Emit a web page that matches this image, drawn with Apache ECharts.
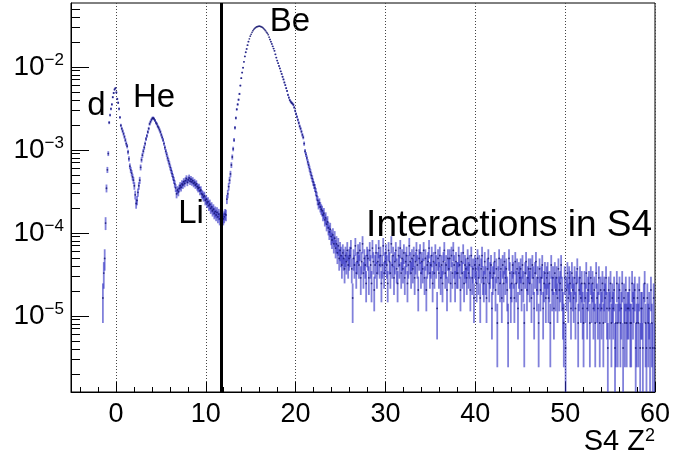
<!DOCTYPE html>
<html>
<head>
<meta charset="utf-8">
<script src="https://cdn.jsdelivr.net/npm/echarts@6/dist/echarts.min.js"></script>
<style>
  html, body { margin: 0; padding: 0; background: #fff; }
  #chart { width: 673px; height: 462px; }
</style>
</head>
<body>
<div id="chart"></div>
<script>
// Histogram of S4 Z^2: fixed-width bins, raw entry counts per bin.
const BIN_START = -1.5;
const BIN_WIDTH = 0.1;
const ENTRY_WEIGHT = 4.1e-6;   // normalisation of one entry

// d peak rising edge (-1.5 .. -0.1)
const COUNTS_D_RISE = [4, 8, 12, 32, 84, 140, 220, 520, 640, 760, 860, 1050, 1180, 1300];
// d fall, He peak (-0.1 .. 6.5)
const COUNTS_HE = [
  1350, 1200, 1000, 900, 760, 600, 480, 440, 410, 380,
  350, 320, 290, 270, 230, 190, 155, 140, 128, 115,
  105, 90, 70, 55, 60, 75, 90, 105, 150, 185,
  210, 235, 260, 290, 330, 360, 400, 440, 500, 530,
  560, 585, 590, 575, 550, 520, 500, 470, 450, 425,
  400, 370, 345, 320, 290, 260, 235, 215, 195, 180,
  165, 150, 138, 126, 115, 105
];
// Li bump (6.5 .. 12.3)
const COUNTS_LI = [
  95, 85, 72, 80, 76, 84, 90, 86, 95, 92,
  101, 96, 104, 110, 99, 106, 112, 102, 108, 100,
  104, 96, 99, 92, 95, 88, 84, 86, 78, 80,
  72, 70, 66, 68, 60, 62, 56, 58, 52, 54,
  48, 50, 45, 47, 42, 44, 40, 43, 38, 41,
  36, 39, 37, 40, 36, 38, 41, 40
];
// Be peak (12.3 .. 26.0)
const COUNTS_BE = [
  62, 72, 88, 105, 125, 160, 200, 250, 320, 450,
  590, 750, 860, 980, 1150, 1450, 1780, 2080, 2380, 2800,
  3250, 3650, 4000, 4450, 4900, 5300, 5700, 6000, 6350, 6650,
  6900, 7100, 7250, 7380, 7450, 7500, 7520, 7500, 7420, 7350,
  7230, 7050, 6850, 6650, 6400, 6200, 5950, 5550, 5200, 4900,
  4600, 4300, 4050, 3800, 3450, 3150, 2900, 2700, 2500, 2330,
  2150, 2000, 1850, 1720, 1580, 1470, 1350, 1250, 1120, 1040,
  970, 930, 900, 880, 850, 790, 720, 660, 610, 560,
  515, 470, 440, 405, 370, 345, 290, 235, 215, 195,
  175, 160, 145, 132, 120, 110, 100, 92, 85, 76,
  68, 60, 54, 56, 50, 47, 45, 40, 42, 35,
  37, 31, 33, 28, 25, 27, 22, 20, 23, 18,
  21, 16, 18, 14, 17, 12, 15, 13, 10, 14,
  12, 9, 13, 11, 15, 10, 12
];
// interaction tail (26.0 .. 60.0)
const COUNTS_TAIL = [
  13, 16, 9, 4, 12, 10, 17, 8, 11, 14,
  10, 15, 7, 11, 18, 8, 12, 10, 6, 13,
  12, 7, 15, 10, 6, 16, 11, 5, 10, 14,
  8, 11, 16, 10, 13, 6, 10, 17, 8, 11,
  14, 10, 6, 15, 11, 8, 18, 10, 13, 7,
  11, 15, 9, 6, 13, 10, 16, 8, 12, 9,
  14, 7, 11, 13, 6, 10, 17, 11, 8, 12,
  9, 13, 7, 11, 15, 10, 5, 12, 14, 8,
  11, 9, 15, 7, 12, 5, 10, 11, 16, 8,
  10, 13, 6, 11, 8, 14, 10, 3, 12, 8,
  13, 7, 10, 6, 11, 15, 8, 10, 5, 12,
  9, 12, 6, 13, 8, 15, 10, 6, 11, 8,
  8, 13, 10, 5, 11, 8, 14, 6, 10, 9,
  7, 12, 8, 10, 5, 13, 7, 9, 4, 10,
  9, 6, 12, 7, 10, 4, 9, 13, 7, 6,
  11, 7, 4, 9, 12, 6, 8, 10, 3, 7,
  8, 11, 5, 9, 2, 7, 12, 6, 9, 4,
  10, 6, 11, 7, 9, 5, 2, 12, 8, 4,
  6, 10, 8, 4, 11, 6, 9, 3, 8, 7,
  9, 5, 10, 6, 2, 8, 11, 5, 7, 9,
  6, 9, 4, 10, 7, 3, 8, 11, 5, 7,
  2, 9, 5, 7, 10, 3, 6, 8, 4, 7,
  8, 4, 6, 2, 10, 5, 7, 3, 8, 5,
  7, 4, 9, 5, 6, 10, 5, 3, 2, 7,
  1, 5, 8, 4, 7, 6, 3, 8, 5, 4,
  7, 3, 6, 9, 2, 5, 7, 4, 6, 3,
  2, 6, 4, 8, 3, 5, 6, 2, 7, 4,
  6, 3, 5, 2, 8, 4, 3, 7, 2, 5,
  3, 6, 2, 5, 4, 7, 3, 1, 5, 3,
  6, 2, 4, 3, 5, 1, 2, 6, 2, 4,
  5, 2, 3, 6, 1, 4, 2, 5, 2, 3,
  3, 5, 2, 2, 6, 3, 4, 5, 1, 2,
  4, 2, 5, 1, 3, 3, 1, 4, 6, 2,
  1, 4, 2, 3, 1, 5, 2, 1, 4, 1
];

const X_RANGE = [-5, 60];
const Y_RANGE = [1.21e-6, 0.0587];
const X_MAJOR = [0, 10, 20, 30, 40, 50, 60];
const X_MINOR = [-4, -2, 2, 4, 6, 8, 12, 14, 16, 18, 22, 24, 26, 28, 32, 34, 36, 38,
                 42, 44, 46, 48, 52, 54, 56, 58];
const Y_MAJOR = [1e-5, 1e-4, 1e-3, 1e-2];
const Y_MINOR = [
  2e-6, 3e-6, 4e-6, 5e-6, 6e-6, 7e-6, 8e-6, 9e-6,
  2e-5, 3e-5, 4e-5, 5e-5, 6e-5, 7e-5, 8e-5, 9e-5,
  2e-4, 3e-4, 4e-4, 5e-4, 6e-4, 7e-4, 8e-4, 9e-4,
  2e-3, 3e-3, 4e-3, 5e-3, 6e-3, 7e-3, 8e-3, 9e-3,
  2e-2, 3e-2, 4e-2, 5e-2
];
const CUT_POSITION = 11.75;

const COUNTS = [].concat(COUNTS_D_RISE, COUNTS_HE, COUNTS_LI, COUNTS_BE, COUNTS_TAIL);

// [bin centre, content, error] for every filled bin
const points = [];
COUNTS.forEach(function (n, i) {
  if (n > 0) {
    points.push([BIN_START + BIN_WIDTH * (i + 0.5), n * ENTRY_WEIGHT, Math.sqrt(n) * ENTRY_WEIGHT]);
  }
});

const FONT = '"Liberation Sans", Arial, Helvetica, sans-serif';

const chart = echarts.init(document.getElementById('chart'), null, { renderer: 'canvas' });

chart.setOption({
  animation: false,
  backgroundColor: '#fff',
  grid: {
    left: 71, right: 18, top: 3, bottom: 70,
    show: true, borderColor: '#000', borderWidth: 1,
    containLabel: false, outerBoundsMode: 'none'
  },
  xAxis: [
    {
      type: 'value', min: X_RANGE[0], max: X_RANGE[1], position: 'bottom',
      axisLine: { show: true, onZero: false, lineStyle: { color: '#000', width: 1 } },
      axisTick: { show: true, inside: true, length: 10, customValues: X_MAJOR, lineStyle: { color: '#000' } },
      axisLabel: {
        customValues: X_MAJOR, margin: 9, color: '#000',
        fontFamily: FONT, fontSize: 27
      },
      splitLine: { show: true, lineStyle: { color: '#444', type: [1, 2], width: 1 } }
    },
    {
      type: 'value', min: X_RANGE[0], max: X_RANGE[1], position: 'bottom',
      axisLine: { show: false, onZero: false },
      axisTick: { show: true, inside: true, length: 5, customValues: X_MINOR, lineStyle: { color: '#000' } },
      axisLabel: { show: false },
      splitLine: { show: false }
    }
  ],
  yAxis: [
    {
      type: 'log', logBase: 10, min: Y_RANGE[0], max: Y_RANGE[1], position: 'left',
      axisLine: { show: true, onZero: false, lineStyle: { color: '#000', width: 1 } },
      axisTick: { show: true, inside: true, length: 18, customValues: Y_MAJOR, lineStyle: { color: '#000' } },
      axisLabel: {
        customValues: Y_MAJOR, margin: 7,
        formatter: function (v) {
          return '{b|10}{s|\u2212' + Math.abs(Math.round(Math.log10(v))) + '}';
        },
        rich: {
          b: { fontFamily: FONT, fontSize: 28, color: '#000', lineHeight: 30 },
          s: { fontFamily: FONT, fontSize: 17, color: '#000', verticalAlign: 'top', lineHeight: 30 }
        }
      },
      splitLine: { show: false }
    },
    {
      type: 'log', logBase: 10, min: Y_RANGE[0], max: Y_RANGE[1], position: 'left',
      axisLine: { show: false, onZero: false },
      axisTick: { show: true, inside: true, length: 9, customValues: Y_MINOR, lineStyle: { color: '#000' } },
      axisLabel: { show: false },
      splitLine: { show: false }
    }
  ],
  series: [
    {
      // vertical error bars
      type: 'custom',
      xAxisIndex: 0, yAxisIndex: 0,
      data: points,
      encode: { x: 0, y: 1 },
      clip: true,
      silent: true,
      renderItem: function (params, api) {
        const x = api.value(0);
        const y = api.value(1);
        const e = api.value(2);
        const lo = Math.max(y - e, Y_RANGE[0]);
        const hi = Math.min(y + e, Y_RANGE[1]);
        const top = api.coord([x, hi]);
        const bot = api.coord([x, lo]);
        const h = bot[1] - top[1];
        if (h < 1) {
          return null;
        }
        return {
          type: 'rect',
          shape: { x: top[0] - 0.9, y: top[1], width: 1.8, height: h },
          style: { fill: 'rgba(45, 45, 195, 0.6)' }
        };
      },
      z: 2
    },
    {
      // bin contents
      type: 'scatter',
      xAxisIndex: 0, yAxisIndex: 0,
      data: points.map(function (p) { return [p[0], p[1]]; }),
      symbol: 'circle',
      symbolSize: 1.8,
      itemStyle: { color: '#12126e' },
      silent: true,
      z: 3,
      markLine: {
        silent: true,
        symbol: ['none', 'none'],
        label: { show: false },
        lineStyle: { color: '#000', width: 3, type: 'solid' },
        data: [{ xAxis: CUT_POSITION }],
        z: 4
      }
    }
  ],
  graphic: [
    { type: 'text', x: 96.5, y: 106, style: { text: 'd', font: '33px ' + FONT, fill: '#000', align: 'center', verticalAlign: 'middle', textAlign: 'center', textVerticalAlign: 'middle' } },
    { type: 'text', x: 154, y: 98, style: { text: 'He', font: '33px ' + FONT, fill: '#000', align: 'center', verticalAlign: 'middle', textAlign: 'center', textVerticalAlign: 'middle' } },
    { type: 'text', x: 191, y: 214, style: { text: 'Li', font: '33px ' + FONT, fill: '#000', align: 'center', verticalAlign: 'middle', textAlign: 'center', textVerticalAlign: 'middle' } },
    { type: 'text', x: 290, y: 22, style: { text: 'Be', font: '33px ' + FONT, fill: '#000', align: 'center', verticalAlign: 'middle', textAlign: 'center', textVerticalAlign: 'middle' } },
    { type: 'text', x: 652, y: 226, style: { text: 'Interactions in S4', font: '37px ' + FONT, fill: '#000', align: 'right', verticalAlign: 'middle', textAlign: 'right', textVerticalAlign: 'middle' } },
    {
      type: 'text', x: 655, y: 442,
      style: {
        text: '{a|S4 Z}{s|2}',
        align: 'right', verticalAlign: 'middle', textAlign: 'right', textVerticalAlign: 'middle',
        rich: {
          a: { fontFamily: FONT, fontSize: 29, fill: '#000', color: '#000', lineHeight: 30 },
          s: { fontFamily: FONT, fontSize: 18, fill: '#000', color: '#000', verticalAlign: 'top', lineHeight: 30 }
        }
      }
    }
  ]
});
</script>
</body>
</html>
